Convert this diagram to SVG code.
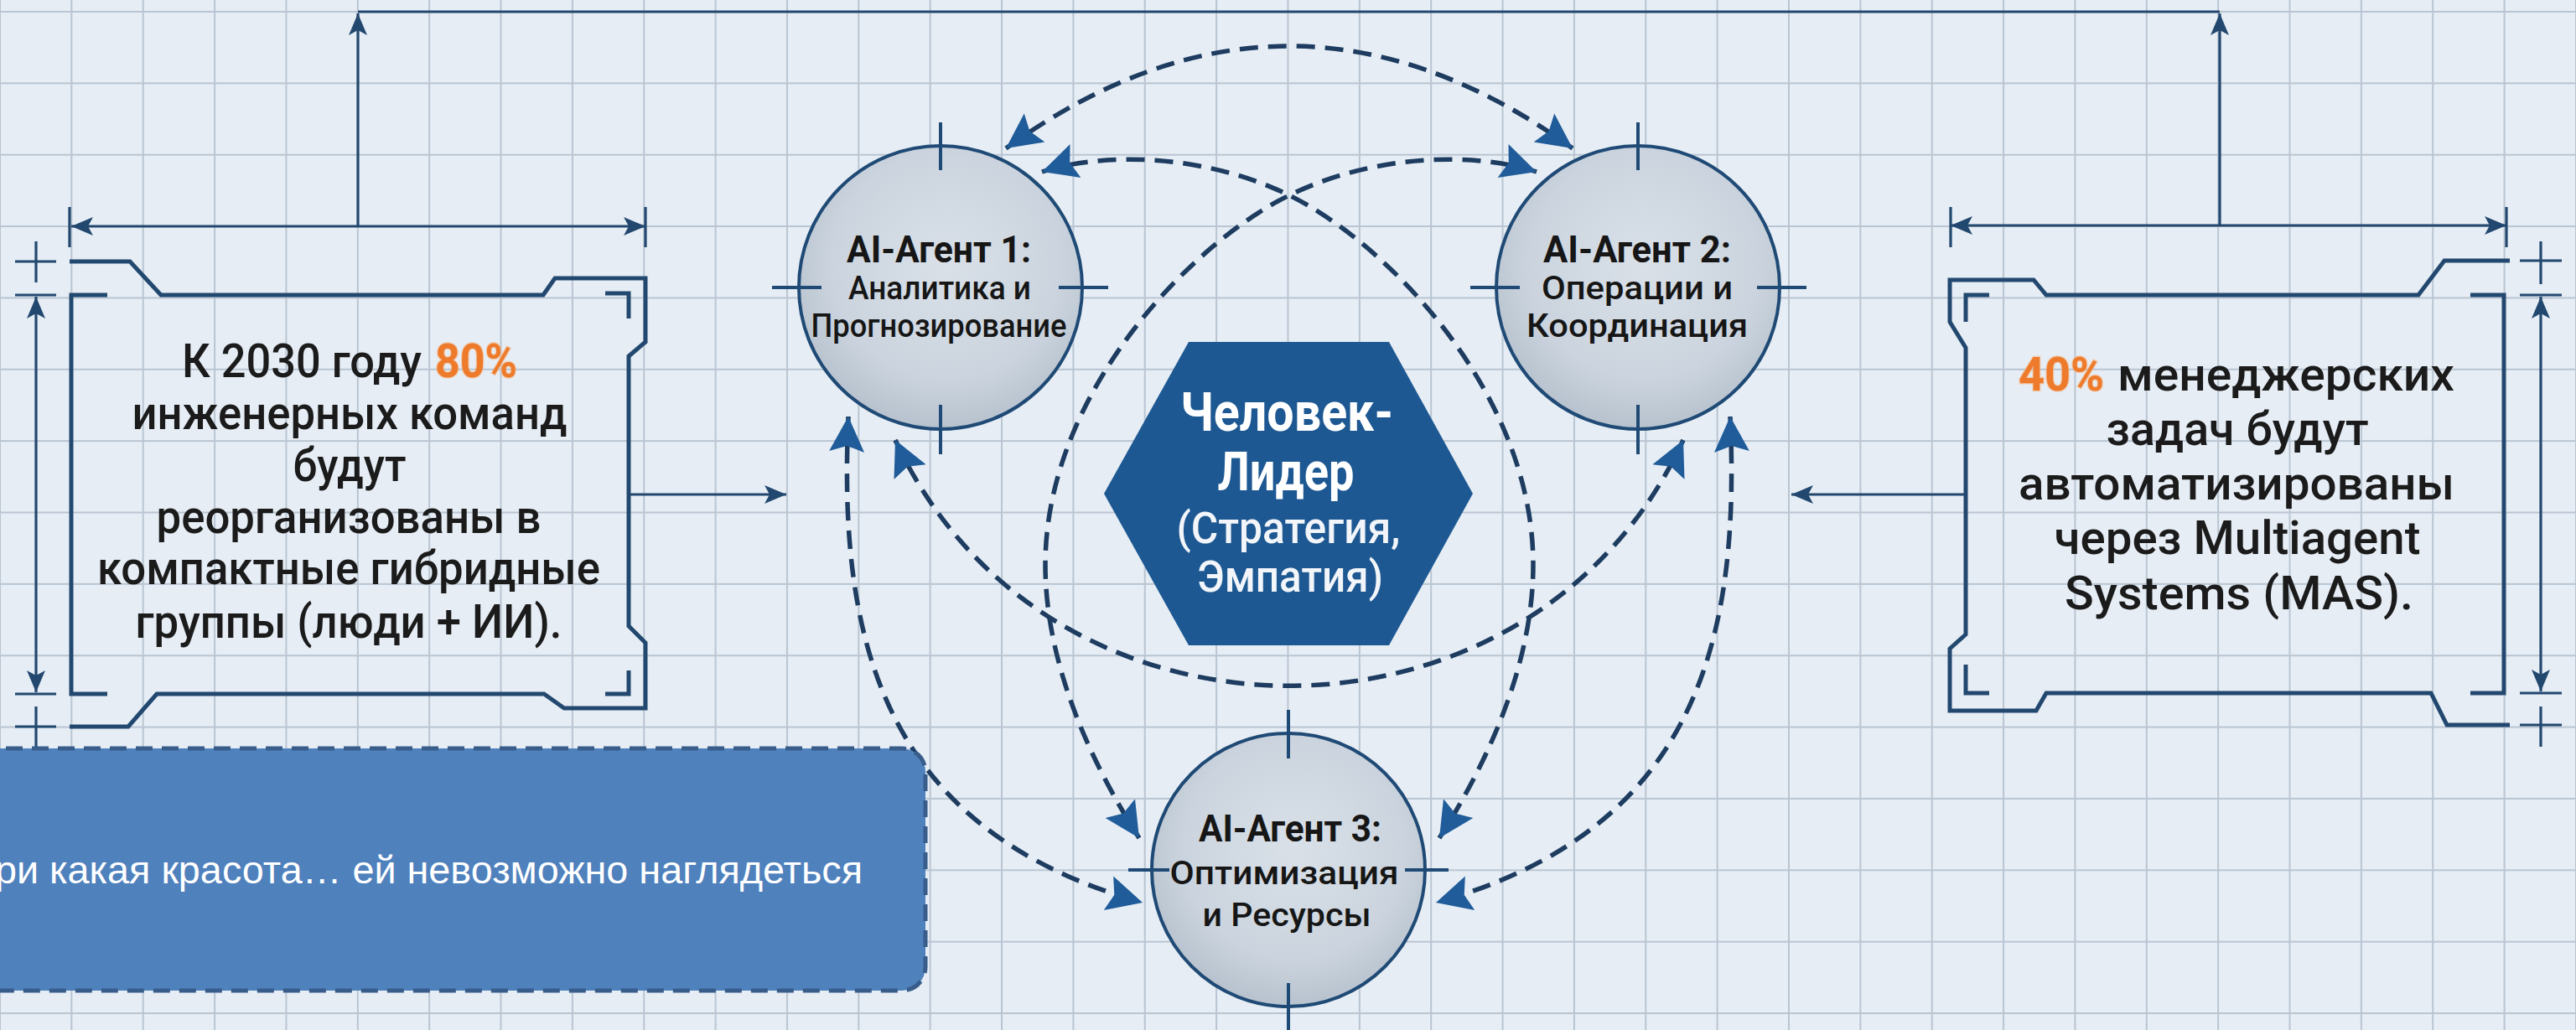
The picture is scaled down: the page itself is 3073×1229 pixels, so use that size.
<svg xmlns="http://www.w3.org/2000/svg" width="3073" height="1229" viewBox="0 0 3073 1229">
<style>
.ln{fill:none;stroke:#22486f;stroke-width:5;stroke-linejoin:miter}
.thin{fill:none;stroke:#22486f;stroke-width:3.2}
.tk{fill:none;stroke:#22486f;stroke-width:3.2}
.dash{fill:none;stroke:#1d3c60;stroke-width:5.5;stroke-dasharray:22 12}
.circ{fill:url(#cfill);stroke:#1f4a75;stroke-width:4}
.ctk{stroke:#1f4a75;stroke-width:4}
.bt{font-family:Roboto,"Liberation Sans",sans-serif;font-size:56px;font-weight:500;fill:#1b1b1b;text-anchor:middle}
.bs{font-family:Roboto,"Liberation Sans",sans-serif;font-size:56px;font-weight:500;fill:#1b1b1b}
.or{font-family:Roboto,"Liberation Sans",sans-serif;font-size:56px;fill:#ee7a2b;font-weight:700;stroke:#f7b27a;stroke-width:2.5;stroke-opacity:.55;paint-order:stroke}
.at{font-family:Roboto,"Liberation Sans",sans-serif;font-weight:700;font-size:45px;fill:#161616;text-anchor:middle}
.as{font-family:Roboto,"Liberation Sans",sans-serif;font-size:39px;font-weight:500;fill:#161616;text-anchor:middle}
.hex{fill:#1d5892}
.hb{font-family:Roboto,"Liberation Sans",sans-serif;font-weight:700;font-size:65px;fill:#ffffff;text-anchor:middle}
.hr{font-family:Roboto,"Liberation Sans",sans-serif;font-size:51px;font-weight:500;fill:#f2f5f9;text-anchor:middle}
.co{fill:#4f81bd;stroke:#385d8a;stroke-width:5;stroke-dasharray:20 11}
.ct{font-family:"Liberation Sans",Arial,sans-serif;font-size:46px;fill:#ffffff}
</style>
<defs>
<pattern id="grid" x="-1" y="13" width="85.36" height="85.36" patternUnits="userSpaceOnUse">
<rect x="0" y="0" width="2" height="85.36" fill="#b9c5d2"/>
<rect x="0" y="0" width="85.36" height="2" fill="#b9c5d2"/>
</pattern>
<radialGradient id="cfill" cx="0.52" cy="0.42" r="0.58">
<stop offset="0" stop-color="#d9e0e8"/>
<stop offset="0.7" stop-color="#cbd4de"/>
<stop offset="1" stop-color="#b7c2ce"/>
</radialGradient>
<marker id="dimArrow" viewBox="0 -12 26 24" refX="26" refY="0" markerWidth="26" markerHeight="24" markerUnits="userSpaceOnUse" orient="auto-start-reverse">
<path d="M26,0 L0,-11 L6,0 L0,11 Z" fill="#22486f"/>
</marker>
<marker id="bigArrow" viewBox="0 -22 42 44" refX="42" refY="0" markerWidth="42" markerHeight="44" markerUnits="userSpaceOnUse" orient="auto-start-reverse">
<path d="M42,0 L0,-21 L7,0 L0,21 Z" fill="#1f5c99"/>
</marker>
</defs>

<rect id="background" x="0" y="0" width="3073" height="1229" fill="#e6edf5"/>
<rect id="grid-lines" x="0" y="0" width="3073" height="1229" fill="url(#grid)"/>

<g id="connectors">
<path class="thin" d="M427,14 H2648"/>
<path class="thin" d="M427,270 V16" marker-end="url(#dimArrow)"/>
<path class="thin" d="M2648,269 V16" marker-end="url(#dimArrow)"/>
<path class="thin" d="M750,590 H938" marker-end="url(#dimArrow)"/>
<path class="thin" d="M2345,590 H2137" marker-end="url(#dimArrow)"/>
<path class="dash" d="M1200,177 Q1538,-67 1876,177" marker-start="url(#bigArrow)" marker-end="url(#bigArrow)"/>
<path class="dash" d="M1243,205 C1320,180 1440,185 1538,233 C1656,291 1829,470 1829,674 C1829,800 1767,922 1717,1000" marker-start="url(#bigArrow)" marker-end="url(#bigArrow)"/>
<path class="dash" d="M1833,205 C1756,180 1636,185 1538,233 C1420,291 1247,470 1247,674 C1247,800 1309,922 1359,1000" marker-start="url(#bigArrow)" marker-end="url(#bigArrow)"/>
<path class="dash" d="M1068,525 C1248,916 1828,916 2008,525" marker-start="url(#bigArrow)" marker-end="url(#bigArrow)"/>
<path class="dash" d="M1012,497 C1000,760 1050,990 1363,1077" marker-start="url(#bigArrow)" marker-end="url(#bigArrow)"/>
<path class="dash" d="M2064,497 C2076,760 2026,990 1713,1077" marker-start="url(#bigArrow)" marker-end="url(#bigArrow)"/>
</g>

<g id="left-box">
<path class="ln" d="M83,312 H155 L192,352 H648 L662,332 H770 V408 L750,425 V747 L770,767 V845 H673 L649,828 H187 L153,867 H83"/>
<path class="ln" d="M128,352 H85 V828 H128"/>
<path class="ln" d="M722,350 H750 V380"/>
<path class="ln" d="M750,800 V828 H722"/>
<path class="thin" d="M85,270 H770" marker-start="url(#dimArrow)" marker-end="url(#dimArrow)"/>
<path class="tk" d="M83,247 V295 M770,247 V295"/>
<path class="thin" d="M43,354 V826" marker-start="url(#dimArrow)" marker-end="url(#dimArrow)"/>
<path class="tk" d="M18,352 H67 M18,828 H67 M18,312 H67 M43,288 V337 M18,867 H67 M43,843 V893"/>
<text class="bs" x="217" y="450" textLength="286" lengthAdjust="spacingAndGlyphs">К 2030 году</text>
<text class="or" x="519" y="450" textLength="98" lengthAdjust="spacingAndGlyphs">80%</text>
<text class="bt" x="417" y="512" textLength="519" lengthAdjust="spacingAndGlyphs">инженерных команд</text>
<text class="bt" x="417" y="574" textLength="135" lengthAdjust="spacingAndGlyphs">будут</text>
<text class="bt" x="416" y="636" textLength="459" lengthAdjust="spacingAndGlyphs">реорганизованы в</text>
<text class="bt" x="416" y="697" textLength="600" lengthAdjust="spacingAndGlyphs">компактные гибридные</text>
<text class="bt" x="416" y="761" textLength="509" lengthAdjust="spacingAndGlyphs">группы (люди + ИИ).</text>
</g>

<g id="right-box">
<path class="ln" d="M2994,311 H2916 L2885,352 H2441 L2426,334 H2326 V384 L2345,415 V757 L2326,774 V848 H2429 L2441,827 H2900 L2919,865 H2994"/>
<path class="ln" d="M2947,352 H2987 V827 H2947"/>
<path class="ln" d="M2373,352 H2345 V384"/>
<path class="ln" d="M2345,793 V827 H2373"/>
<path class="thin" d="M2327,269 H2990" marker-start="url(#dimArrow)" marker-end="url(#dimArrow)"/>
<path class="tk" d="M2327,247 V295 M2990,247 V295"/>
<path class="thin" d="M3031,354 V825" marker-start="url(#dimArrow)" marker-end="url(#dimArrow)"/>
<path class="tk" d="M3006,352 H3056 M3006,827 H3056 M3006,311 H3056 M3031,288 V339 M3006,865 H3056 M3031,843 V891"/>
<text class="or" x="2408" y="466" textLength="102" lengthAdjust="spacingAndGlyphs">40%</text>
<text class="bs" x="2526" y="466" textLength="402" lengthAdjust="spacingAndGlyphs">менеджерских</text>
<text class="bt" x="2669" y="531" textLength="313" lengthAdjust="spacingAndGlyphs">задач будут</text>
<text class="bt" x="2668" y="596" textLength="520" lengthAdjust="spacingAndGlyphs">автоматизированы</text>
<text class="bt" x="2669" y="661" textLength="437" lengthAdjust="spacingAndGlyphs">через Multiagent</text>
<text class="bt" x="2671" y="727" textLength="416" lengthAdjust="spacingAndGlyphs">Systems (MAS).</text>
</g>

<g id="agent-1">
<circle class="circ" cx="1122" cy="343" r="169"/>
<path class="ctk" d="M1122,146 V203 M1122,483 V542 M921,343 H980 M1263,343 H1322"/>
<text class="at" x="1120" y="313" textLength="220" lengthAdjust="spacingAndGlyphs">AI-Агент 1:</text>
<text class="as" x="1121" y="357" textLength="218" lengthAdjust="spacingAndGlyphs">Аналитика и</text>
<text class="as" x="1120" y="402" textLength="305" lengthAdjust="spacingAndGlyphs">Прогнозирование</text>
</g>

<g id="agent-2">
<circle class="circ" cx="1954" cy="343" r="169"/>
<path class="ctk" d="M1954,146 V203 M1954,483 V542 M1754,343 H1813 M2096,343 H2155"/>
<text class="at" x="1953" y="313" textLength="224" lengthAdjust="spacingAndGlyphs">AI-Агент 2:</text>
<text class="as" x="1953" y="357" textLength="228" lengthAdjust="spacingAndGlyphs">Операции и</text>
<text class="as" x="1953" y="402" textLength="264" lengthAdjust="spacingAndGlyphs">Координация</text>
</g>

<g id="agent-3">
<circle class="circ" cx="1537" cy="1038" r="163"/>
<path class="ctk" d="M1537,847 V905 M1537,1173 V1229 M1346,1038 H1395 M1676,1038 H1728"/>
<text class="at" x="1539" y="1004" textLength="218" lengthAdjust="spacingAndGlyphs">AI-Агент 3:</text>
<text class="as" x="1532" y="1055" textLength="273" lengthAdjust="spacingAndGlyphs">Оптимизация</text>
<text class="as" x="1535" y="1105" textLength="201" lengthAdjust="spacingAndGlyphs">и Ресурсы</text>
</g>

<g id="human-leader">
<polygon class="hex" points="1317,589 1418,408 1657,408 1757,589 1657,770 1418,770"/>
<text class="hb" x="1535" y="514" textLength="254" lengthAdjust="spacingAndGlyphs">Человек-</text>
<text class="hb" x="1534" y="585" textLength="163" lengthAdjust="spacingAndGlyphs">Лидер</text>
<text class="hr" x="1537" y="648" textLength="267" lengthAdjust="spacingAndGlyphs">(Стратегия,</text>
<text class="hr" x="1539" y="706" textLength="222" lengthAdjust="spacingAndGlyphs">Эмпатия)</text>
</g>

<g id="callout">
<rect class="co" x="-300" y="893" width="1404" height="289" rx="28" ry="28"/>
<text class="ct" x="-6" y="1054" textLength="1035" lengthAdjust="spacingAndGlyphs">ри какая красота… ей невозможно наглядеться</text>
</g>
</svg>
